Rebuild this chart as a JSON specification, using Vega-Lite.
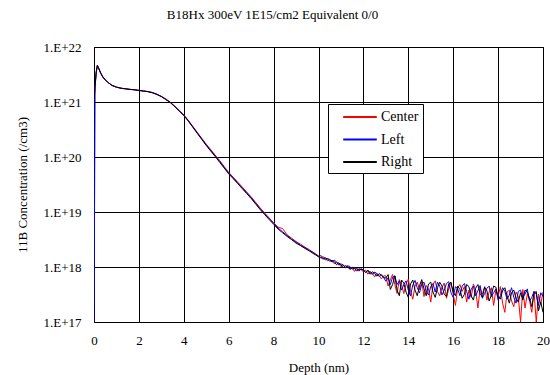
{
  "$schema": "https://vega.github.io/schema/vega-lite/v6.json",
  "autosize": "none",
  "width": 449,
  "height": 275,
  "padding": {"left": 94, "top": 47, "right": 7, "bottom": 53},
  "background": "white",
  "title": {"text": "B18Hx 300eV 1E15/cm2 Equivalent 0/0", "font": "Liberation Serif", "fontSize": 13, "fontWeight": "normal", "color": "black", "anchor": "middle", "dx": -46, "offset": 19},
  "config": {"font": "Liberation Serif", "view": {"stroke": "black", "strokeWidth": 1}},
  "data": {"values": [
    {"x": 0.0, "Center": 1.1e21, "Left": 1.0e17, "Right": 1.0e21},
    {"x": 0.05, "Center": 2.0e21, "Left": 1.9e21, "Right": 2.0e21},
    {"x": 0.1, "Center": 3.4e21, "Left": 3.5e21, "Right": 3.6e21},
    {"x": 0.15, "Center": 4.6e21, "Left": 4.5e21, "Right": 4.7e21},
    {"x": 0.2, "Center": 4.1e21, "Left": 4.2e21, "Right": 4.2e21},
    {"x": 0.3, "Center": 3.3e21, "Left": 3.3e21, "Right": 3.4e21},
    {"x": 0.4, "Center": 2.8e21, "Left": 2.8e21, "Right": 2.85e21},
    {"x": 0.5, "Center": 2.5e21, "Left": 2.5e21, "Right": 2.55e21},
    {"x": 0.6, "Center": 2.3e21, "Left": 2.3e21, "Right": 2.32e21},
    {"x": 0.8, "Center": 2.0e21, "Left": 2.02e21, "Right": 2.0e21},
    {"x": 1.0, "Center": 1.86e21, "Left": 1.87e21, "Right": 1.86e21},
    {"x": 1.2, "Center": 1.78e21, "Left": 1.77e21, "Right": 1.79e21},
    {"x": 1.4, "Center": 1.73e21, "Left": 1.74e21, "Right": 1.74e21},
    {"x": 1.6, "Center": 1.70e21, "Left": 1.70e21, "Right": 1.69e21},
    {"x": 1.8, "Center": 1.66e21, "Left": 1.67e21, "Right": 1.67e21},
    {"x": 2.0, "Center": 1.62e21, "Left": 1.62e21, "Right": 1.63e21},
    {"x": 2.2, "Center": 1.59e21, "Left": 1.58e21, "Right": 1.58e21},
    {"x": 2.4, "Center": 1.55e21, "Left": 1.55e21, "Right": 1.54e21},
    {"x": 2.6, "Center": 1.49e21, "Left": 1.48e21, "Right": 1.47e21},
    {"x": 2.8, "Center": 1.39e21, "Left": 1.38e21, "Right": 1.37e21},
    {"x": 3.0, "Center": 1.27e21, "Left": 1.26e21, "Right": 1.25e21},
    {"x": 3.2, "Center": 1.14e21, "Left": 1.12e21, "Right": 1.11e21},
    {"x": 3.4, "Center": 9.9e20, "Left": 9.8e20, "Right": 9.7e20},
    {"x": 3.6, "Center": 8.4e20, "Left": 8.3e20, "Right": 8.2e20},
    {"x": 3.8, "Center": 7.0e20, "Left": 6.9e20, "Right": 6.8e20},
    {"x": 4.0, "Center": 5.85e20, "Left": 5.75e20, "Right": 5.65e20},
    {"x": 4.2, "Center": 4.65e20, "Left": 4.57e20, "Right": 4.5e20},
    {"x": 4.4, "Center": 3.62e20, "Left": 3.55e20, "Right": 3.48e20},
    {"x": 4.6, "Center": 2.81e20, "Left": 2.75e20, "Right": 2.69e20},
    {"x": 4.8, "Center": 2.19e20, "Left": 2.14e20, "Right": 2.09e20},
    {"x": 5.0, "Center": 1.71e20, "Left": 1.66e20, "Right": 1.62e20},
    {"x": 5.2, "Center": 1.36e20, "Left": 1.32e20, "Right": 1.28e20},
    {"x": 5.4, "Center": 1.08e20, "Left": 1.05e20, "Right": 1.02e20},
    {"x": 5.6, "Center": 8.6e19, "Left": 8.3e19, "Right": 8.0e19},
    {"x": 5.8, "Center": 6.7e19, "Left": 6.5e19, "Right": 6.3e19},
    {"x": 6.0, "Center": 5.25e19, "Left": 5.1e19, "Right": 4.95e19},
    {"x": 6.2, "Center": 4.3e19, "Left": 4.17e19, "Right": 4.05e19},
    {"x": 6.4, "Center": 3.5e19, "Left": 3.39e19, "Right": 3.29e19},
    {"x": 6.6, "Center": 2.85e19, "Left": 2.75e19, "Right": 2.67e19},
    {"x": 6.8, "Center": 2.32e19, "Left": 2.24e19, "Right": 2.17e19},
    {"x": 7.0, "Center": 1.88e19, "Left": 1.82e19, "Right": 1.76e19},
    {"x": 7.2, "Center": 1.5e19, "Left": 1.45e19, "Right": 1.4e19},
    {"x": 7.4, "Center": 1.19e19, "Left": 1.15e19, "Right": 1.11e19},
    {"x": 7.6, "Center": 9.6e18, "Left": 9.3e18, "Right": 9.0e18},
    {"x": 7.8, "Center": 7.8e18, "Left": 7.6e18, "Right": 7.3e18},
    {"x": 8.0, "Center": 6.4e18, "Left": 6.2e18, "Right": 6.0e18},
    {"x": 8.2, "Center": 5.3e18, "Left": 5.1e18, "Right": 4.9e18},
    {"x": 8.4, "Center": 5.0e18, "Left": 4.37e18, "Right": 4.2e18},
    {"x": 8.6, "Center": 3.85e18, "Left": 3.75e18, "Right": 3.6e18},
    {"x": 8.8, "Center": 3.35e18, "Left": 3.22e18, "Right": 3.15e18},
    {"x": 9.0, "Center": 2.9e18, "Left": 2.85e18, "Right": 2.72e18},
    {"x": 9.2, "Center": 2.6e18, "Left": 2.48e18, "Right": 2.45e18},
    {"x": 9.4, "Center": 2.28e18, "Left": 2.26e18, "Right": 2.17e18},
    {"x": 9.6, "Center": 2.06e18, "Left": 1.98e18, "Right": 1.95e18},
    {"x": 9.8, "Center": 1.8e18, "Left": 1.81e18, "Right": 1.72e18},
    {"x": 10.0, "Center": 16.0e17, "Left": 15.2e17, "Right": 15.6e17},
    {"x": 10.1, "Center": 14.6e17, "Left": 16.2e17, "Right": 15.0e17},
    {"x": 10.2, "Center": 15.3e17, "Left": 14.8e17, "Right": 13.9e17},
    {"x": 10.3, "Center": 14.7e17, "Left": 13.5e17, "Right": 14.6e17},
    {"x": 10.4, "Center": 12.9e17, "Left": 14.3e17, "Right": 14.0e17},
    {"x": 10.5, "Center": 13.6e17, "Left": 13.8e17, "Right": 12.7e17},
    {"x": 10.6, "Center": 13.0e17, "Left": 12.3e17, "Right": 13.2e17},
    {"x": 10.7, "Center": 11.5e17, "Left": 13.3e17, "Right": 12.6e17},
    {"x": 10.8, "Center": 12.3e17, "Left": 12.4e17, "Right": 11.0e17},
    {"x": 10.9, "Center": 11.6e17, "Left": 10.9e17, "Right": 11.9e17},
    {"x": 11.0, "Center": 10.1e17, "Left": 11.4e17, "Right": 11.0e17},
    {"x": 11.1, "Center": 11.0e17, "Left": 10.9e17, "Right": 9.7e17},
    {"x": 11.2, "Center": 9.9e17, "Left": 9.6e17, "Right": 10.6e17},
    {"x": 11.3, "Center": 10.4e17, "Left": 10.5e17, "Right": 10.1e17},
    {"x": 11.4, "Center": 9.2e17, "Left": 10.2e17, "Right": 9.0e17},
    {"x": 11.5, "Center": 9.9e17, "Left": 9.1e17, "Right": 9.8e17},
    {"x": 11.6, "Center": 8.3e17, "Left": 9.7e17, "Right": 9.5e17},
    {"x": 11.7, "Center": 9.5e17, "Left": 9.3e17, "Right": 8.4e17},
    {"x": 11.8, "Center": 9.0e17, "Left": 8.4e17, "Right": 9.3e17},
    {"x": 11.9, "Center": 8.9e17, "Left": 9.4e17, "Right": 9.0e17},
    {"x": 12.0, "Center": 8.2e17, "Left": 8.6e17, "Right": 8.9e17},
    {"x": 12.1, "Center": 8.8e17, "Left": 7.9e17, "Right": 8.0e17},
    {"x": 12.2, "Center": 7.4e17, "Left": 8.7e17, "Right": 8.6e17},
    {"x": 12.3, "Center": 8.3e17, "Left": 8.0e17, "Right": 7.4e17},
    {"x": 12.4, "Center": 7.7e17, "Left": 7.3e17, "Right": 8.2e17},
    {"x": 12.5, "Center": 6.6e17, "Left": 8.1e17, "Right": 7.7e17},
    {"x": 12.6, "Center": 7.6e17, "Left": 7.6e17, "Right": 6.8e17},
    {"x": 12.7, "Center": 7.0e17, "Left": 6.7e17, "Right": 7.6e17},
    {"x": 12.8, "Center": 6.1e17, "Left": 7.3e17, "Right": 7.1e17},
    {"x": 12.9, "Center": 6.9e17, "Left": 6.5e17, "Right": 6.4e17},
    {"x": 13.0, "Center": 6.9e17, "Left": 5.5e17, "Right": 6.3e17},
    {"x": 13.1, "Center": 4.5e17, "Left": 6.4e17, "Right": 7.3e17},
    {"x": 13.2, "Center": 5.9e17, "Left": 4.8e17, "Right": 3.9e17},
    {"x": 13.3, "Center": 7.3e17, "Left": 6.5e17, "Right": 4.8e17},
    {"x": 13.4, "Center": 4.8e17, "Left": 6.9e17, "Right": 6.9e17},
    {"x": 13.5, "Center": 3.3e17, "Left": 4.8e17, "Right": 3.8e17},
    {"x": 13.6, "Center": 5.9e17, "Left": 5.6e17, "Right": 3.0e17},
    {"x": 13.7, "Center": 4.8e17, "Left": 3.8e17, "Right": 5.8e17},
    {"x": 13.8, "Center": 3.3e17, "Left": 4.8e17, "Right": 5.1e17},
    {"x": 13.9, "Center": 4.9e17, "Left": 5.6e17, "Right": 3.5e17},
    {"x": 14.0, "Center": 6.0e17, "Left": 3.8e17, "Right": 2.8e17},
    {"x": 14.1, "Center": 3.6e17, "Left": 3.0e17, "Right": 4.9e17},
    {"x": 14.2, "Center": 2.6e17, "Left": 4.7e17, "Right": 5.8e17},
    {"x": 14.3, "Center": 4.5e17, "Left": 5.7e17, "Right": 3.8e17},
    {"x": 14.4, "Center": 5.3e17, "Left": 4.2e17, "Right": 3.0e17},
    {"x": 14.5, "Center": 3.9e17, "Left": 3.4e17, "Right": 4.6e17},
    {"x": 14.6, "Center": 5.4e17, "Left": 4.9e17, "Right": 5.9e17},
    {"x": 14.7, "Center": 2.9e17, "Left": 5.3e17, "Right": 4.0e17},
    {"x": 14.8, "Center": 4.6e17, "Left": 3.7e17, "Right": 3.0e17},
    {"x": 14.9, "Center": 4.0e17, "Left": 3.1e17, "Right": 4.9e17},
    {"x": 15.0, "Center": 2.3e17, "Left": 4.4e17, "Right": 5.3e17},
    {"x": 15.1, "Center": 4.8e17, "Left": 5.0e17, "Right": 3.5e17},
    {"x": 15.2, "Center": 5.6e17, "Left": 3.5e17, "Right": 2.8e17},
    {"x": 15.3, "Center": 3.6e17, "Left": 5.3e17, "Right": 4.2e17},
    {"x": 15.4, "Center": 3.0e17, "Left": 4.5e17, "Right": 5.3e17},
    {"x": 15.5, "Center": 4.3e17, "Left": 3.1e17, "Right": 4.5e17},
    {"x": 15.6, "Center": 5.1e17, "Left": 3.8e17, "Right": 3.2e17},
    {"x": 15.7, "Center": 2.7e17, "Left": 5.0e17, "Right": 2.9e17},
    {"x": 15.8, "Center": 4.0e17, "Left": 5.4e17, "Right": 4.9e17},
    {"x": 15.9, "Center": 5.2e17, "Left": 3.4e17, "Right": 5.3e17},
    {"x": 16.0, "Center": 3.2e17, "Left": 2.8e17, "Right": 3.5e17},
    {"x": 16.1, "Center": 2.0e17, "Left": 4.4e17, "Right": 3.0e17},
    {"x": 16.2, "Center": 4.2e17, "Left": 4.0e17, "Right": 4.5e17},
    {"x": 16.3, "Center": 4.8e17, "Left": 3.0e17, "Right": 3.9e17},
    {"x": 16.4, "Center": 3.6e17, "Left": 4.5e17, "Right": 2.7e17},
    {"x": 16.5, "Center": 4.4e17, "Left": 5.0e17, "Right": 3.2e17},
    {"x": 16.6, "Center": 2.3e17, "Left": 3.6e17, "Right": 4.8e17},
    {"x": 16.7, "Center": 3.8e17, "Left": 2.6e17, "Right": 4.4e17},
    {"x": 16.8, "Center": 2.8e17, "Left": 4.0e17, "Right": 3.0e17},
    {"x": 16.9, "Center": 4.9e17, "Left": 4.5e17, "Right": 2.5e17},
    {"x": 17.0, "Center": 3.8e17, "Left": 3.0e17, "Right": 4.1e17},
    {"x": 17.1, "Center": 1.8e17, "Left": 3.7e17, "Right": 4.8e17},
    {"x": 17.2, "Center": 4.1e17, "Left": 4.6e17, "Right": 3.3e17},
    {"x": 17.3, "Center": 3.2e17, "Left": 2.7e17, "Right": 2.8e17},
    {"x": 17.4, "Center": 4.4e17, "Left": 3.3e17, "Right": 4.3e17},
    {"x": 17.5, "Center": 2.5e17, "Left": 4.1e17, "Right": 3.7e17},
    {"x": 17.6, "Center": 3.5e17, "Left": 4.5e17, "Right": 2.4e17},
    {"x": 17.7, "Center": 4.2e17, "Left": 2.9e17, "Right": 3.1e17},
    {"x": 17.8, "Center": 2.0e17, "Left": 3.4e17, "Right": 4.5e17},
    {"x": 17.9, "Center": 3.8e17, "Left": 4.0e17, "Right": 4.3e17},
    {"x": 18.0, "Center": 2.9e17, "Left": 2.5e17, "Right": 2.9e17},
    {"x": 18.1, "Center": 4.4e17, "Left": 3.0e17, "Right": 2.6e17},
    {"x": 18.2, "Center": 2.2e17, "Left": 4.2e17, "Right": 3.7e17},
    {"x": 18.3, "Center": 1.5e17, "Left": 3.6e17, "Right": 4.2e17},
    {"x": 18.4, "Center": 3.5e17, "Left": 2.6e17, "Right": 3.0e17},
    {"x": 18.5, "Center": 3.8e17, "Left": 3.1e17, "Right": 2.2e17},
    {"x": 18.6, "Center": 2.4e17, "Left": 4.2e17, "Right": 3.4e17},
    {"x": 18.7, "Center": 1.9e17, "Left": 2.8e17, "Right": 3.8e17},
    {"x": 18.8, "Center": 3.5e17, "Left": 2.2e17, "Right": 2.7e17},
    {"x": 18.9, "Center": 2.9e17, "Left": 3.6e17, "Right": 2.3e17},
    {"x": 19.0, "Center": 1.0e17, "Left": 3.8e17, "Right": 3.4e17},
    {"x": 19.1, "Center": 3.9e17, "Left": 2.8e17, "Right": 2.5e17},
    {"x": 19.2, "Center": 1.8e17, "Left": 3.2e17, "Right": 3.8e17},
    {"x": 19.3, "Center": 3.2e17, "Left": 4.0e17, "Right": 3.5e17},
    {"x": 19.4, "Center": 2.5e17, "Left": 2.4e17, "Right": 2.7e17},
    {"x": 19.5, "Center": 1.5e17, "Left": 2.8e17, "Right": 1.9e17},
    {"x": 19.6, "Center": 3.6e17, "Left": 3.6e17, "Right": 3.3e17},
    {"x": 19.7, "Center": 1.0e17, "Left": 3.2e17, "Right": 3.6e17},
    {"x": 19.8, "Center": 3.2e17, "Left": 2.0e17, "Right": 1.6e17},
    {"x": 19.9, "Center": 2.1e17, "Left": 3.4e17, "Right": 2.3e17},
    {"x": 20.0, "Center": 3.5e17, "Left": 2.9e17, "Right": 1.5e17}
  ]},
  "transform": [{"fold": ["Center", "Left", "Right"], "as": ["series", "value"]}],
  "mark": {"type": "line", "strokeWidth": 1, "clip": true},
  "encoding": {
    "x": {"field": "x", "type": "quantitative", "scale": {"domain": [0, 20], "nice": false},
      "axis": {"values": [0, 2, 4, 6, 8, 10, 12, 14, 16, 18, 20], "title": "Depth (nm)", "grid": true, "gridColor": "black", "gridOpacity": 1, "gridWidth": 1, "ticks": false, "domain": false,
        "labelFont": "Liberation Serif", "labelFontSize": 13, "labelColor": "black", "labelPadding": 12, "labelFlush": false,
        "titleFont": "Liberation Serif", "titleFontSize": 13, "titleFontWeight": "normal", "titleColor": "black", "titlePadding": 14}},
    "y": {"field": "value", "type": "quantitative", "scale": {"type": "log", "domain": [1e17, 1e22], "nice": false},
      "axis": {"values": [1e17, 1e18, 1e19, 1e20, 1e21, 1e22], "labelExpr": "'1.E+' + round(log(datum.value) / LN10)", "title": "11B Concentration (/cm3)", "grid": true, "gridColor": "black", "gridOpacity": 1, "gridWidth": 1, "ticks": false, "domain": false,
        "labelFont": "Liberation Serif", "labelFontSize": 13, "labelColor": "black", "labelPadding": 13, "labelFlush": false,
        "titleFont": "Liberation Serif", "titleFontSize": 13, "titleFontWeight": "normal", "titleColor": "black", "titlePadding": 13}},
    "color": {"field": "series", "type": "nominal",
      "scale": {"domain": ["Center", "Left", "Right"], "range": ["#ff0000", "#0000ff", "#000000"]},
      "legend": {"orient": "none", "legendX": 234, "legendY": 57, "title": null, "strokeColor": "black", "fillColor": "white", "padding": 4,
        "symbolType": "M-2.1,0H2.1", "symbolSize": 256, "symbolStrokeWidth": 2, "symbolOffset": 19, "labelOffset": 12, "labelExpr": "datum.label + '  '", "labelFont": "Liberation Serif", "labelFontSize": 14, "labelColor": "black", "rowPadding": 6.5}}
  }
}
